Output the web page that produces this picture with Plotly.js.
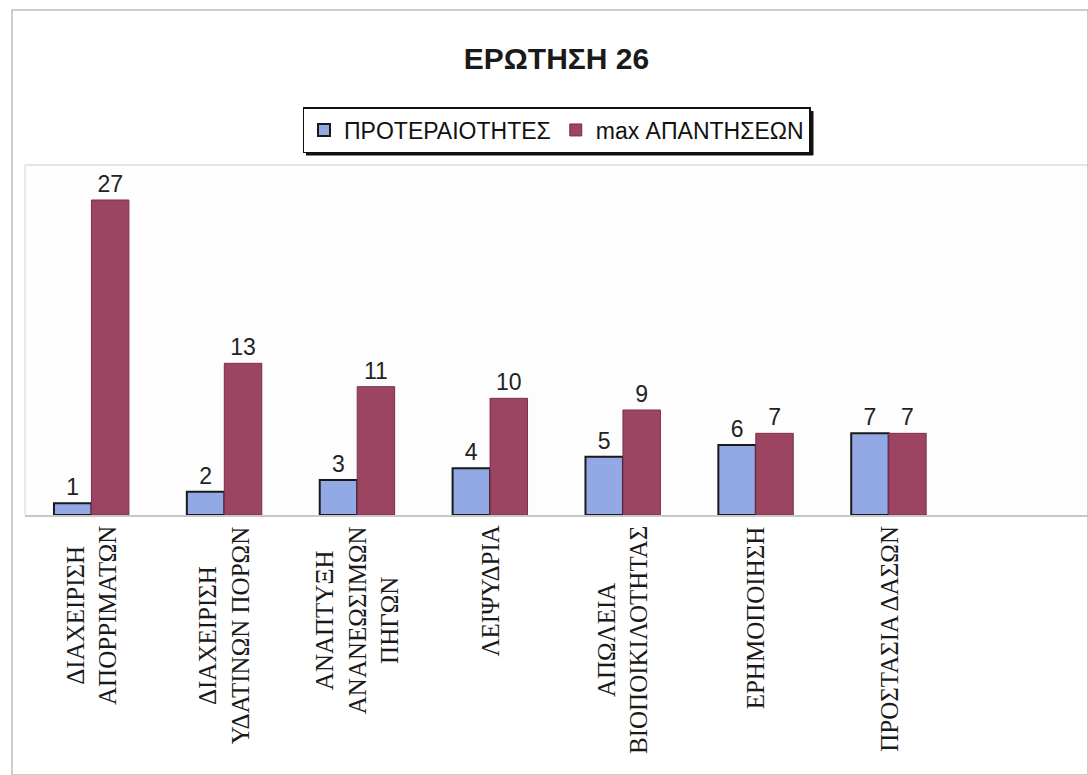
<!DOCTYPE html>
<html>
<head>
<meta charset="utf-8">
<script src="https://cdn.plot.ly/plotly-3.0.1.min.js"></script>
<style>html,body{margin:0;padding:0;background:#fff;}#chart{width:1088px;height:775px;}</style>
</head>
<body>
<div id="chart"></div>
<script>
const categories = [
  "ΔΙΑΧΕΙΡΙΣΗ<br>ΑΠΟΡΡΙΜΑΤΩΝ",
  "ΔΙΑΧΕΙΡΙΣΗ<br>ΥΔΑΤΙΝΩΝ ΠΟΡΩΝ",
  "ΑΝΑΠΤΥΞΗ<br>ΑΝΑΝΕΩΣΙΜΩΝ<br>ΠΗΓΩΝ",
  "ΛΕΙΨΥΔΡΙΑ",
  "ΑΠΩΛΕΙΑ<br>ΒΙΟΠΟΙΚΙΛΟΤΗΤΑΣ",
  "ΕΡΗΜΟΠΟΙΗΣΗ",
  "ΠΡΟΣΤΑΣΙΑ ΔΑΣΩΝ"
];
const priorities = [1, 2, 3, 4, 5, 6, 7];
const maxAnswers = [27, 13, 11, 10, 9, 7, 7];
const seriesNames = ["ΠΡΟΤΕΡΑΙΟΤΗΤΕΣ", "max ΑΠΑΝΤΗΣΕΩΝ"];
const titleText = "ΕΡΩΤΗΣΗ 26";

const labelFont = {family: "Liberation Sans, Arial, sans-serif", size: 23, color: "#222"};

const traces = [
  {
    type: "bar", name: seriesNames[0], x: categories, y: priorities,
    text: priorities.map(String), textposition: "outside", cliponaxis: false,
    textfont: labelFont,
    marker: {color: "#92A9E6", line: {color: "#1a1a1a", width: 2}}
  },
  {
    type: "bar", name: seriesNames[1], x: categories, y: maxAnswers,
    text: maxAnswers.map(String), textposition: "outside", cliponaxis: false,
    textfont: labelFont,
    marker: {color: "#9B4562", line: {color: "#7d2f4a", width: 1}}
  }
];

// category labels: rotated, lines centred, hung just under the category axis
const categoryAnnotations = categories.map(function (c) {
  return {
    x: c, y: 0, xref: "x", yref: "y",
    text: c, textangle: -90, showarrow: false,
    xanchor: "center", yanchor: "top", yshift: -9, align: "center",
    font: {family: "Liberation Serif, Times New Roman, serif", size: 25, color: "#1a1a1a"}
  };
});

// legend drop shadow (decoration, paper coordinates)
const px = function (p) { return (p - 25) / 1063; };
const py = function (p) { return (515 - p) / 350; };

const layout = {
  width: 1088, height: 775,
  margin: {l: 25, r: 0, t: 165, b: 260},
  paper_bgcolor: "#ffffff", plot_bgcolor: "#fdfdfe",
  title: {
    text: "<b>" + titleText + "</b>",
    font: {family: "Liberation Sans, Arial, sans-serif", size: 30, color: "#1a1a1a"},
    x: 0.5, xref: "paper", y: 1 - 58/775, yref: "container", yanchor: "middle"
  },
  barmode: "group", bargap: 0.436, bargroupgap: 0,
  showlegend: true,
  legend: {
    orientation: "h", x: 0.5, xanchor: "center", y: 1.1, yanchor: "middle",
    font: {family: "Liberation Sans, Arial, sans-serif", size: 23, color: "#111"},
    bordercolor: "#111", borderwidth: 1.5, bgcolor: "#ffffff",
    itemwidth: 30, traceorder: "normal"
  },
  xaxis: {
    type: "category", range: [-0.5, 7.5],
    showticklabels: false, ticks: "", showgrid: false,
    showline: true, linecolor: "#c8c8c8", linewidth: 2, mirror: false
  },
  yaxis: {
    range: [0, 30], showgrid: false, zeroline: false, showticklabels: false, ticks: "",
    showline: false
  },
  annotations: categoryAnnotations,
  shapes: [
    {type: "line", xref: "paper", yref: "paper", x0: 0, x1: 1, y0: 1, y1: 1, line: {color: "#dcdcdc", width: 1.5}},
    {type: "line", xref: "paper", yref: "paper", x0: 0, x1: 0, y0: 0, y1: 1, line: {color: "#e2e2e2", width: 1.5}},
    {type: "rect", xref: "paper", yref: "paper", x0: -13/1063, x1: 1.0, y0: -260/350, y1: (515-10)/350, line: {color: "#bdbdbd", width: 1.5}},
    {type: "line", xref: "paper", yref: "paper", x0: px(306), x1: px(813), y0: py(154), y1: py(154), line: {color: "#111", width: 3}},
    {type: "line", xref: "paper", yref: "paper", x0: px(812), x1: px(812), y0: py(111), y1: py(155), line: {color: "#111", width: 3}}
  ]
};

Plotly.newPlot("chart", traces, layout, {displayModeBar: false, staticPlot: true});
</script>
</body>
</html>
